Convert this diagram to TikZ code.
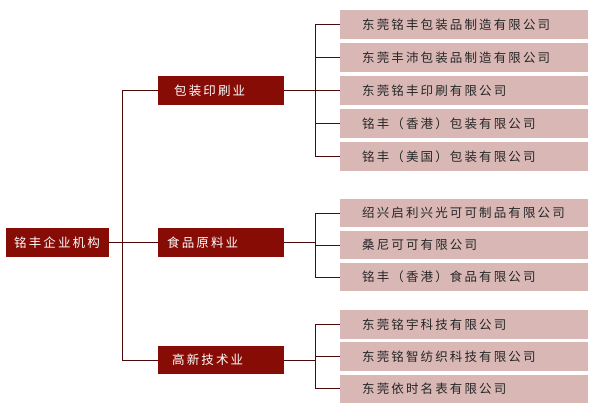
\documentclass[tikz,border=0pt]{standalone}
\usepackage{fontspec}
\newfontfamily\cjk[LetterSpace=17]{Noto Sans CJK SC}
\usetikzlibrary{positioning}
\definecolor{darkbox}{HTML}{870C06}
\definecolor{pinkbox}{HTML}{D8B7B5}
\definecolor{linkcol}{HTML}{4A0A0A}
\tikzset{
  topbox/.style={fill=darkbox,text=white,anchor=north west,minimum height=28.5pt,inner ysep=0pt,align=left,font=\cjk\fontsize{12.5}{14}\selectfont},
  leafbox/.style={fill=pinkbox,text=black!85,anchor=north west,minimum height=28.5pt,inner ysep=0pt,inner xsep=22pt,text width=204pt,align=left,font=\cjk\fontsize{12.5}{14}\selectfont},
  link/.style={draw=linkcol,line width=0.9pt}
}
\begin{document}
\begin{tikzpicture}[x=1pt,y=-1pt]
\useasboundingbox (0,0) rectangle (592,409);

% root and branches
\node[topbox,inner xsep=8pt,text width=87pt] (root) at (6,228) {铭丰企业机构};
\node[topbox,inner xsep=16pt,text width=94pt] (pack) at (158,76) {包装印刷业};
\node[topbox,inner xsep=9pt,text width=108pt] (food) at (158,228) {食品原料业};
\node[topbox,inner xsep=14pt,text width=98pt] (tech) at (158,345.5) {高新技术业};

% leaves
\node[leafbox] (a1) at (340,10) {东莞铭丰包装品制造有限公司};
\node[leafbox] (a2) at (340,43) {东莞丰沛包装品制造有限公司};
\node[leafbox] (a3) at (340,76) {东莞铭丰印刷有限公司};
\node[leafbox] (a4) at (340,109) {铭丰（香港）包装有限公司};
\node[leafbox] (a5) at (340,142) {铭丰（美国）包装有限公司};

\node[leafbox] (b1) at (340,198.5) {绍兴启利兴光可可制品有限公司};
\node[leafbox] (b2) at (340,230.5) {桑尼可可有限公司};
\node[leafbox] (b3) at (340,262.5) {铭丰（香港）食品有限公司};

\node[leafbox] (c1) at (340,310) {东莞铭宇科技有限公司};
\node[leafbox] (c2) at (340,342) {东莞铭智纺织科技有限公司};
\node[leafbox] (c3) at (340,374.3) {东莞依时名表有限公司};

% connectors
\coordinate (t) at (122,0);
\coordinate (ra) at (315,0);
\draw[link] (root.east) -- (food.west);
\draw[link] (pack.west) -- (pack.west -| t) |- (tech.west);

\draw[link] (pack.east) -- (a3.west);
\draw[link] (a1.west) -- (a1.west -| ra) |- (a5.west);
\draw[link] (a2.west) -- (a2.west -| ra);
\draw[link] (a4.west) -- (a4.west -| ra);

\draw[link] (food.east) -- (food.east -| ra);
\draw[link] (b1.west) -- (b1.west -| ra) |- (b3.west);
\draw[link] (b2.west) -- (b2.west -| ra);

\draw[link] (tech.east) -- (tech.east -| ra);
\draw[link] (c1.west) -- (c1.west -| ra) |- (c3.west);
\draw[link] (c2.west) -- (c2.west -| ra);
\end{tikzpicture}
\end{document}
